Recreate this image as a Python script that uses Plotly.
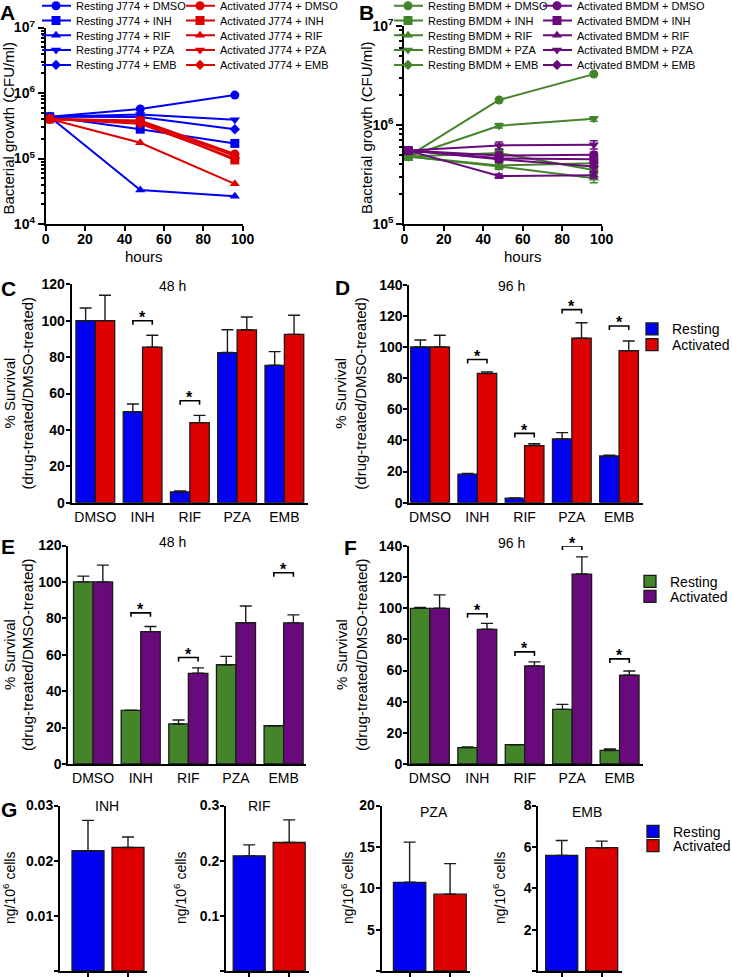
import plotly.graph_objects as go

W, H = 732, 977
FONT = "Liberation Sans, Arial, Helvetica, sans-serif"

# ---------------- data ----------------
hours = [2, 48, 96]
drugs = ["DMSO", "INH", "RIF", "PZA", "EMB"]

# Panel A: J774 macrophages, CFU/ml
a_resting = {
    "DMSO": [4.35e5, 5.7e5, 9.3e5],
    "INH": [4.35e5, 2.8e5, 1.7e5],
    "RIF": [4.35e5, 3.3e4, 2.65e4],
    "PZA": [4.35e5, 4.7e5, 3.9e5],
    "EMB": [4.35e5, 4.3e5, 2.8e5],
}
a_activated = {
    "DMSO": [4.0e5, 3.8e5, 1.17e5],
    "INH": [4.0e5, 3.75e5, 9.5e4],
    "RIF": [4.0e5, 1.74e5, 4.1e4],
    "PZA": [4.0e5, 3.6e5, 1.1e5],
    "EMB": [4.0e5, 3.4e5, 1.0e5],
}

# Panel B: BMDM, CFU/ml (mean, error)
b_resting = {
    "DMSO": [4.8e5, 1.78e6, 3.25e6],
    "INH": [4.8e5, 5.2e5, 3.5e5],
    "RIF": [4.8e5, 3.8e5, 2.9e5],
    "PZA": [4.8e5, 9.8e5, 1.15e6],
    "EMB": [4.8e5, 3.9e5, 4.1e5],
}
b_resting_err = {
    "DMSO": [4e4, 6e4, 1e5],
    "INH": [4e4, 3e4, 2e4],
    "RIF": [4e4, 2.5e4, 3e4],
    "PZA": [4e4, 5e4, 6e4],
    "EMB": [4e4, 2e4, 3e4],
}
b_activated = {
    "DMSO": [5.5e5, 4.9e5, 5.0e5],
    "INH": [5.5e5, 4.6e5, 4.5e5],
    "RIF": [5.5e5, 3.05e5, 3.1e5],
    "PZA": [5.5e5, 6.2e5, 6.3e5],
    "EMB": [5.5e5, 4.5e5, 3.8e5],
}
b_activated_err = {
    "DMSO": [4e4, 4e4, 3e4],
    "INH": [4e4, 2e4, 5e4],
    "RIF": [4e4, 1.5e4, 2e4],
    "PZA": [4e4, 5e4, 6e4],
    "EMB": [4e4, 3e4, 4e4],
}
log_tickvals_a = [1e4, 1e5, 1e6, 1e7]
log_ticktext_a = ["10<sup>4</sup>", "10<sup>5</sup>", "10<sup>6</sup>", "10<sup>7</sup>"]
log_tickvals_b = [1e5, 1e6, 1e7]
log_ticktext_b = ["10<sup>5</sup>", "10<sup>6</sup>", "10<sup>7</sup>"]
hour_ticks = [0, 20, 40, 60, 80, 100]

# Panels C-F: % survival (drug-treated / DMSO-treated)
bar_cats = ["DMSO", "INH", "RIF", "PZA", "EMB"]

c_resting = [100, 50, 6, 82.5, 75.5]
c_resting_err = [7, 4.2, 0.5, 12.5, 7.5]
c_activated = [100, 85.5, 44, 95, 92.5]
c_activated_err = [14, 6.5, 4, 7, 10.5]
c_sig_cats = ["INH", "RIF"]
c_sig_y = [100, 56]

d_resting = [100, 18.3, 2.9, 41, 30]
d_resting_err = [4.5, 0.5, 0.2, 4, 0.5]
d_activated = [100, 83, 36.7, 105.6, 97.6]
d_activated_err = [7.5, 1, 1.2, 10, 6.2]
d_sig_cats = ["INH", "RIF", "PZA", "EMB"]
d_sig_y = [92, 44.5, 124, 113.5]

e_resting = [100, 29.5, 22, 54.5, 21]
e_resting_err = [3.2, 0, 2.2, 4.6, 0]
e_activated = [100, 72.7, 49.8, 77.6, 77.5]
e_activated_err = [9.2, 2.8, 3, 9.2, 4.4]
e_sig_cats = ["INH", "RIF", "EMB"]
e_sig_y = [83, 58.5, 105]

f_resting = [100, 10.5, 12.4, 35.1, 8.7]
f_resting_err = [0.5, 0.5, 0, 3.2, 0.9]
f_activated = [100, 86.5, 63, 122, 57]
f_activated_err = [8.6, 3.8, 2.6, 11, 2.7]
f_sig_cats = ["INH", "RIF", "PZA", "EMB"]
f_sig_y = [96.5, 72, 140, 67.5]

# Panel G: intracellular drug, ng/10^6 cells
g_drugs = ["INH", "RIF", "PZA", "EMB"]
g_resting = [0.0218, 0.2087, 10.72, 5.59]
g_resting_err = [0.0055, 0.020, 4.86, 0.72]
g_activated = [0.0224, 0.2329, 9.28, 5.96]
g_activated_err = [0.0019, 0.041, 3.69, 0.32]

# ---------------- styles ----------------
BLUE = "#0000F2"
RED = "#DE0000"
GREEN = "#44842A"
PURPLE = "#690A7C"
SYMBOLS = ["circle", "square", "triangle-up", "triangle-down", "diamond"]
MSIZE = [9, 9, 9, 9, 8]
BAR_W = 0.41
G_BAR_W = 0.8
LEG_INDENT = -6


def xd(a, b):
    return [a / W, b / W]


def yd(top, bottom):
    return [1 - bottom / H, 1 - top / H]


def axis_style(**kw):
    base = dict(showline=True, linecolor="black", linewidth=2, ticks="outside",
                tickcolor="black", tickwidth=2, ticklen=5, showgrid=False,
                zeroline=False, fixedrange=True,
                tickfont=dict(family=FONT, size=14, color="black", weight="bold"))
    base.update(kw)
    return base


legend_layouts = {}
_leg_n = [0]


def new_legend(x_left, y_center, size):
    _leg_n[0] += 1
    n = _leg_n[0]
    name = "legend" if n == 1 else f"legend{n}"
    legend_layouts[name] = dict(
        x=x_left / W, y=1 - y_center / H, xanchor="left", yanchor="middle",
        bgcolor="rgba(0,0,0,0)", borderwidth=0, indentation=LEG_INDENT,
        font=dict(family=FONT, size=size, color="black"),
        itemclick=False, itemdoubleclick=False)
    return name


fig = go.Figure()
layout_axes = {}

# panel geometry (pixel boxes: x-left, x-right, y-top, y-bottom)
boxes = {
    1: (45.7, 242.7, 27.5, 224),     # A
    2: (404.3, 601.7, 25.7, 224),    # B
    3: (71.7, 308, 284.3, 502.7),    # C
    4: (409.3, 642.7, 284.7, 502.7), # D
    5: (68.3, 306, 545.5, 764),      # E
    6: (409, 643.3, 546, 764),       # F
    7: (60, 147, 805.5, 971),        # G INH
    8: (226, 309.2, 805.5, 971),     # G RIF
    9: (381.7, 470.3, 805.5, 971),   # G PZA
    10: (538.3, 621.7, 805.5, 971),  # G EMB
}


def ax_names(i):
    return ("x" if i == 1 else f"x{i}", "y" if i == 1 else f"y{i}",
            "xaxis" if i == 1 else f"xaxis{i}", "yaxis" if i == 1 else f"yaxis{i}")


# ---------------- panels A, B (line charts) ----------------
def add_line_panel(i, rest, act, rest_err, act_err, c_rest, c_act, cell, legx, y_range, tv, tt):
    xn, yn, xa, ya = ax_names(i)
    for data, err, col, lx, label in [(rest, rest_err, c_rest, legx[0], "Resting"),
                                       (act, act_err, c_act, legx[1], "Activated")]:
        for k, d in enumerate(drugs):
            leg = new_legend(lx, 5.7 + 14.8 * k, 11)
            tr = dict(x=hours, y=data[d], mode="lines+markers",
                      name=f"{label} {cell} + {d}",
                      line=dict(color=col, width=2),
                      marker=dict(symbol=SYMBOLS[k], size=MSIZE[k], color=col),
                      xaxis=xn, yaxis=yn, legend=leg, cliponaxis=False,
                      hoverinfo="x+y+name")
            if err is not None:
                tr["error_y"] = dict(type="data", array=err[d], color=col,
                                     thickness=1.5, width=4)
            fig.add_trace(go.Scatter(**tr))
    x0, x1, t, b = boxes[i]
    layout_axes[xa] = axis_style(domain=xd(x0, x1), anchor=yn, range=[0, 100],
                                 tickvals=hour_ticks, ticklabelstandoff=-4)
    layout_axes[ya] = axis_style(domain=yd(t, b), anchor=xn, type="log", range=y_range,
                                 tickvals=tv, ticktext=tt, ticklen=6,
                                 minor=dict(ticks="outside", ticklen=3, tickwidth=1.5,
                                            tickcolor="black", dtick="D1", showgrid=False))


add_line_panel(1, a_resting, a_activated, None, None, BLUE, RED, "J774", (42, 186),
               [4, 7], log_tickvals_a, log_ticktext_a)
add_line_panel(2, b_resting, b_activated, b_resting_err, b_activated_err, GREEN, PURPLE,
               "BMDM", (394, 543), [5, 7], log_tickvals_b, log_ticktext_b)

annotations = []


def ann(text, x, y, size, bold=False, angle=0, xanchor="center", yanchor="middle"):
    annotations.append(dict(text=text, x=x / W, y=1 - y / H, xref="paper", yref="paper",
                            showarrow=False, textangle=angle, xanchor=xanchor,
                            yanchor=yanchor,
                            font=dict(family=FONT, size=size, color="black",
                                      weight="bold" if bold else "normal")))


# ---------------- panels C-F (grouped bars) ----------------
def add_bar_panel(i, rest, rest_err, act, act_err, sig_cats, sig_y, ymax, xr,
                  c_rest, c_act, legpos):
    xn, yn, xa, ya = ax_names(i)
    idx = list(range(len(bar_cats)))
    for data, err, col, off, name, lp in [(rest, rest_err, c_rest, -BAR_W, "Resting", legpos[0] if legpos else None),
                                          (act, act_err, c_act, 0.0, "Activated", legpos[1] if legpos else None)]:
        tr = dict(x=idx, y=data, width=BAR_W, offset=off, name=name,
                  marker=dict(color=col, line=dict(color="#1a1a1a", width=1.3)),
                  error_y=dict(type="data", symmetric=False, array=err,
                               arrayminus=[0] * len(err), color="#1a1a1a",
                               thickness=1.4, width=6),
                  xaxis=xn, yaxis=yn, hoverinfo="y+name")
        if lp is not None:
            tr["legend"] = new_legend(lp[0], lp[1], 14)
            tr["showlegend"] = True
        else:
            tr["showlegend"] = False
        fig.add_trace(go.Bar(**tr))
    x0, x1, t, b = boxes[i]
    tick_d = 4.0 / (b - t) * ymax
    for cat, h in zip(sig_cats, sig_y):
        c = bar_cats.index(cat)
        xl, xr_ = c - BAR_W / 2, c + BAR_W / 2
        fig.add_trace(go.Scatter(x=[xl, xl, xr_, xr_], y=[h - tick_d, h, h, h - tick_d],
                                 mode="lines", line=dict(color="black", width=1.6),
                                 showlegend=False, hoverinfo="skip", cliponaxis=False,
                                 xaxis=xn, yaxis=yn))
        annotations.append(dict(text="*", x=c, y=h, xref=xn, yref=yn, showarrow=False,
                                yanchor="middle", yshift=3,
                                font=dict(family=FONT, size=16, color="black", weight="bold")))
    layout_axes[xa] = axis_style(domain=xd(x0, x1), anchor=yn, range=xr, tickvals=idx,
                                 ticktext=bar_cats, ticks="",
                                 tickfont=dict(family=FONT, size=14, color="black"))
    layout_axes[ya] = axis_style(domain=yd(t, b), anchor=xn, range=[0, ymax], dtick=20,
                                 ticklen=4, ticklabelstandoff=-2)


add_bar_panel(3, c_resting, c_resting_err, c_activated, c_activated_err, c_sig_cats, c_sig_y,
              120, [-0.5, 4.5], BLUE, RED, None)
add_bar_panel(4, d_resting, d_resting_err, d_activated, d_activated_err, d_sig_cats, d_sig_y,
              140, [-0.44, 4.5], BLUE, RED, [(638, 329.3), (638, 345)])
add_bar_panel(5, e_resting, e_resting_err, e_activated, e_activated_err, e_sig_cats, e_sig_y,
              120, [-0.52, 4.47], GREEN, PURPLE, None)
add_bar_panel(6, f_resting, f_resting_err, f_activated, f_activated_err, f_sig_cats, f_sig_y,
              140, [-0.44, 4.5], GREEN, PURPLE, [(636, 581.7), (636, 596.7)])

# ---------------- panel G ----------------
g_ymax = [0.03, 0.3, 20, 8]
g_dtick = [0.01, 0.1, 5, 2]
g_fmt = [".2f", ".1f", "d", "d"]
g_xr = [[-0.7, 1.475], [-0.58, 1.5], [-0.69, 1.5], [-0.585, 1.5]]
for j in range(4):
    i = 7 + j
    xn, yn, xa, ya = ax_names(i)
    for pos, val, err, col, name, ly in [(0, g_resting[j], g_resting_err[j], BLUE, "Resting", 831.7),
                                          (1, g_activated[j], g_activated_err[j], RED, "Activated", 846)]:
        tr = dict(x=[pos], y=[val], width=G_BAR_W, offset=-G_BAR_W / 2, name=name,
                  marker=dict(color=col, line=dict(color="#1a1a1a", width=1.3)),
                  error_y=dict(type="data", symmetric=False, array=[err], arrayminus=[0],
                               color="#1a1a1a", thickness=1.4, width=6),
                  xaxis=xn, yaxis=yn, hoverinfo="y+name")
        if j == 0:
            tr["legend"] = new_legend(639, ly, 14)
            tr["showlegend"] = True
        else:
            tr["showlegend"] = False
        fig.add_trace(go.Bar(**tr))
    x0, x1, t, b = boxes[i]
    layout_axes[xa] = axis_style(domain=xd(x0, x1), anchor=yn, range=g_xr[j],
                                 tickvals=[0, 1], showticklabels=False, ticklen=5)
    layout_axes[ya] = axis_style(domain=yd(t, b), anchor=xn, range=[0, g_ymax[j]],
                                 dtick=g_dtick[j], tickformat=g_fmt[j], ticklen=4,
                                 ticklabelstandoff=-2)

# ---------------- text ----------------
for letter, x, y in [("A", 7.5, 12), ("B", 366.7, 12), ("C", 8.3, 288.3), ("D", 342, 288),
                     ("E", 8.3, 546), ("F", 350, 547.5), ("G", 9, 809)]:
    ann(letter, x, y, 21, bold=True)

ann("Bacterial growth (CFU/ml)", 7.5, 128, 15, angle=-90)
ann("Bacterial growth (CFU/ml)", 366, 128, 15, angle=-90)
ann("hours", 144, 256, 15)
ann("hours", 523.3, 256, 15)

for xa_, xb_, yc in [(9, 27, 393.5), (341, 361, 393.7), (9, 27, 655), (341, 361, 655)]:
    ann("% Survival", xa_, yc, 15, angle=-90)
    ann("(drug-treated/DMSO-treated)", xb_, yc, 15, angle=-90)

ann("48 h", 172, 286, 14)
ann("96 h", 511.7, 286, 14)
ann("48 h", 172, 541.7, 14)
ann("96 h", 511.7, 543.3, 14)

for x in [9, 180, 347, 499]:
    ann("ng/10<sup>6</sup> cells", x, 888, 14, angle=-90)
for name, x, y in zip(g_drugs, [106.7, 259.3, 434.3, 586.7], [806, 806, 811.7, 811.7]):
    ann(name, x, y, 14)

fig.update_layout(
    width=W, height=H,
    margin=dict(l=0, r=0, t=0, b=0, autoexpand=False),
    paper_bgcolor="white", plot_bgcolor="rgba(0,0,0,0)",
    font=dict(family=FONT, color="black"),
    showlegend=True, barmode="group",
    annotations=annotations,
    **layout_axes,
    **legend_layouts,
)

fig.write_html("out.html", config={"displayModeBar": False},
               post_script="document.body.style.margin='0';document.body.style.overflow='hidden';")
